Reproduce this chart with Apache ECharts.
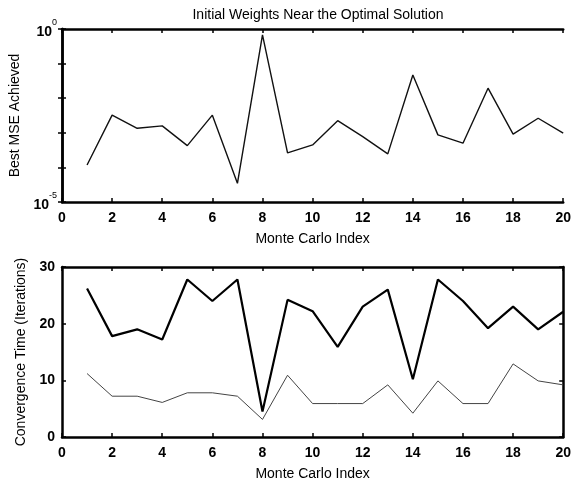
<!DOCTYPE html>
<html><head><meta charset="utf-8">
<script src="https://cdn.jsdelivr.net/npm/echarts@6/dist/echarts.min.js"></script>
<style>html,body{margin:0;padding:0;background:#fff}#c{width:574px;height:483px}</style>
</head><body><div id="c"></div>
<script>
const monteCarloIndex = [1,2,3,4,5,6,7,8,9,10,11,12,13,14,15,16,17,18,19,20];
// log10 of Best MSE Achieved
const bestMseLog10 = [-3.93,-2.49,-2.87,-2.80,-3.37,-2.49,-4.46,-0.17,-3.58,-3.35,-2.65,-3.11,-3.61,-1.33,-3.06,-3.30,-1.71,-3.04,-2.58,-3.01];
const convTimeA = [26.2,17.8,19.0,17.2,27.8,24.0,27.8,4.5,24.2,22.2,15.9,23.0,26.0,10.2,27.8,24.0,19.2,23.0,19.0,22.1];
const convTimeB = [11.2,7.2,7.2,6.1,7.8,7.8,7.2,3.1,10.9,5.9,5.9,5.9,9.2,4.2,9.9,5.9,5.9,12.9,9.9,9.2];
const xTicks = [0,2,4,6,8,10,12,14,16,18,20];
const titleText = 'Initial Weights Near the Optimal Solution';

const FONT = 'Liberation Sans, Arial, sans-serif';
const chart = echarts.init(document.getElementById('c'));
const pair = (xs, ys) => xs.map((x, i) => [x, ys[i]]);
const mse = bestMseLog10.map(v => Math.pow(10, v));

function frameX(gi, pos, showLabel) {
  return {
    type: 'value', gridIndex: gi, position: pos, min: xTicks[0], max: xTicks[xTicks.length - 1], interval: xTicks[1] - xTicks[0],
    name: showLabel ? 'Monte Carlo Index' : '', nameLocation: 'middle', nameGap: 30,
    nameTextStyle: {fontFamily: FONT, fontSize: 14, color: '#000'},
    axisLine: {show: true, onZero: false, lineStyle: {color: '#000', width: 2.5}},
    axisTick: {show: true, inside: true, length: 4, lineStyle: {color: '#000', width: 1.5}},
    axisLabel: {show: showLabel, margin: 9, fontFamily: FONT, fontSize: 14, color: '#000', fontWeight: 'bold'},
    splitLine: {show: false}
  };
}
const option = {
  animation: false,
  backgroundColor: '#fff',
  title: {text: titleText, left: 313, top: 3, textAlign: 'center',
    textStyle: {fontFamily: FONT, fontSize: 14, fontWeight: 'normal', color: '#000'}},
  grid: [
    {left: 62, top: 29, width: 505, height: 173},
    {left: 62, top: 267, width: 505, height: 170}
  ],
  xAxis: [frameX(0, 'bottom', true), frameX(0, 'top', false), frameX(1, 'bottom', true), frameX(1, 'top', false)],
  yAxis: [
    {type: 'log', logBase: 10, gridIndex: 0, position: 'left', min: 1e-5, max: 1,
     name: 'Best MSE Achieved', nameLocation: 'middle', nameGap: 37,
     nameTextStyle: {fontFamily: FONT, fontSize: 14, color: '#000'},
     axisLine: {show: true, lineStyle: {color: '#000', width: 2.5}},
     axisTick: {show: true, inside: true, length: 4, lineStyle: {color: '#000', width: 1.5}},
     splitLine: {show: false},
     axisLabel: {margin: 5, fontFamily: FONT, color: '#000',
       formatter: function (v) {
         const e = Math.round(Math.log10(v));
         if (e === 0 || e === -5) return '{b|10}{s|' + e + '}';
         return '';
       },
       rich: {
         b: {fontFamily: FONT, fontSize: 14, fontWeight: 'bold', color: '#000', verticalAlign: 'bottom'},
         s: {fontFamily: FONT, fontSize: 9, color: '#000', verticalAlign: 'top', lineHeight: 21}
       }}},
    {type: 'log', logBase: 10, gridIndex: 0, position: 'right', min: 1e-5, max: 1,
     axisLine: {show: true, lineStyle: {color: '#000', width: 2.5}},
     axisTick: {show: true, inside: true, length: 4, lineStyle: {color: '#000', width: 1.5}},
     axisLabel: {show: false}, splitLine: {show: false}},
    {type: 'value', gridIndex: 1, position: 'left', min: 0, max: 30, interval: 10,
     name: 'Convergence Time (Iterations)', nameLocation: 'middle', nameGap: 26,
     nameTextStyle: {fontFamily: FONT, fontSize: 14, color: '#000'},
     axisLine: {show: true, onZero: false, lineStyle: {color: '#000', width: 2.5}},
     axisTick: {show: true, inside: true, length: 4, lineStyle: {color: '#000', width: 1.5}},
     axisLabel: {margin: 7, fontFamily: FONT, fontSize: 14, fontWeight: 'bold', color: '#000'},
     splitLine: {show: false}},
    {type: 'value', gridIndex: 1, position: 'right', min: 0, max: 30, interval: 10,
     axisLine: {show: true, onZero: false, lineStyle: {color: '#000', width: 2.5}},
     axisTick: {show: true, inside: true, length: 4, lineStyle: {color: '#000', width: 1.5}},
     axisLabel: {show: false}, splitLine: {show: false}}
  ],
  series: [
    {type: 'line', xAxisIndex: 0, yAxisIndex: 0, data: pair(monteCarloIndex, mse), symbol: 'none',
     lineStyle: {color: '#111', width: 1.4}},
    {type: 'line', xAxisIndex: 2, yAxisIndex: 2, data: pair(monteCarloIndex, convTimeA), symbol: 'none',
     lineStyle: {color: '#000', width: 2.2}},
    {type: 'line', xAxisIndex: 2, yAxisIndex: 2, data: pair(monteCarloIndex, convTimeB), symbol: 'none',
     lineStyle: {color: '#444', width: 1}}
  ]
};
chart.setOption(option);
</script></body></html>
